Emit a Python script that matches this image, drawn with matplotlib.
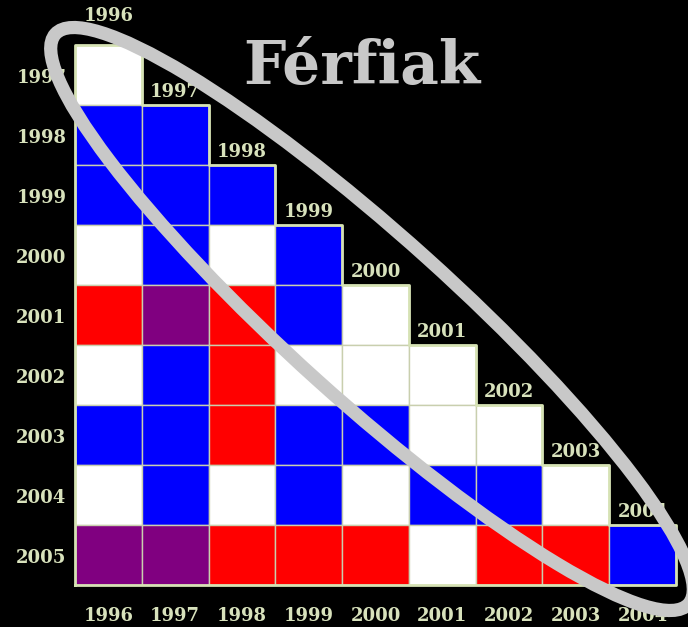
import numpy as np
import matplotlib
matplotlib.use("Agg")
import matplotlib.pyplot as plt
from matplotlib.patches import Rectangle, Ellipse

# years on each axis
col_years = ["1996", "1997", "1998", "1999", "2000", "2001", "2002", "2003", "2004"]
row_years = ["1997", "1998", "1999", "2000", "2001", "2002", "2003", "2004", "2005"]

# cell codes per row: W = white, B = blue, R = red, P = purple
cells = [
    "W",
    "BB",
    "BBB",
    "WBWB",
    "RPRBW",
    "WBRWWW",
    "BBRBBWW",
    "WBWBWBBW",
    "PPRRRWRRB",
]
palette = {"W": "#ffffff", "B": "#0000ff", "R": "#ff0000", "P": "#800080"}

label_col = "#d8e2bc"
edge_col = "#d6e2b4"
ring_col = "#c8c8c8"

W, H = 688, 627
fig = plt.figure(figsize=(W / 100, H / 100), dpi=100, facecolor="black")

# grid axes (pixel box of the triangle: x 75..676, y 45..585)
ax = fig.add_axes([75 / W, (H - 585) / H, (676 - 75) / W, 540 / H])
ax.set_facecolor("black")
n = len(col_years)
ax.set_xlim(0, n)
ax.set_ylim(n, 0)
ax.axis("off")

for i, row in enumerate(cells):
    for j, c in enumerate(row):
        ax.add_patch(Rectangle((j, i), 1, 1, facecolor=palette[c],
                               edgecolor="#c9cfae", lw=1.0, zorder=1))

# staircase outline
xs, ys = [0, 0], [n, 0]
for k in range(n):
    xs += [k + 1, k + 1]
    ys += [k, k + 1]
xs.append(0)
ys.append(n)
ax.plot(xs, ys, color=edge_col, lw=2, zorder=2, clip_on=False)

tfont = dict(family="DejaVu Serif", weight="bold", size=13, color=label_col)

for j, yr in enumerate(col_years):
    # label sitting on top of each column's first cell
    dy = 0.48 if j == 0 else 0.22
    ax.text(j + 0.5, j - dy, yr, ha="center", va="center", clip_on=False, **tfont)
    # bottom axis label
    ax.text(j + 0.5, n + 0.52, yr, ha="center", va="center", clip_on=False, **tfont)

for i, yr in enumerate(row_years):
    ax.text(-0.13, i + 0.55, yr, ha="right", va="center", clip_on=False, **tfont)

# overlay in pixel space for the title and the highlight ring
ov = fig.add_axes([0, 0, 1, 1], facecolor="none")
ov.set_xlim(0, W)
ov.set_ylim(H, 0)
ov.axis("off")
ov.text(362, 67, "Férfiak", ha="center", va="center", color=ring_col,
        family="DejaVu Serif", weight="bold", fontsize=43)
ov.add_patch(Ellipse((372, 319), 852, 164, angle=42, fill=False,
                     edgecolor=ring_col, lw=9.5))

fig.savefig("out.png", dpi=100, facecolor="black")
